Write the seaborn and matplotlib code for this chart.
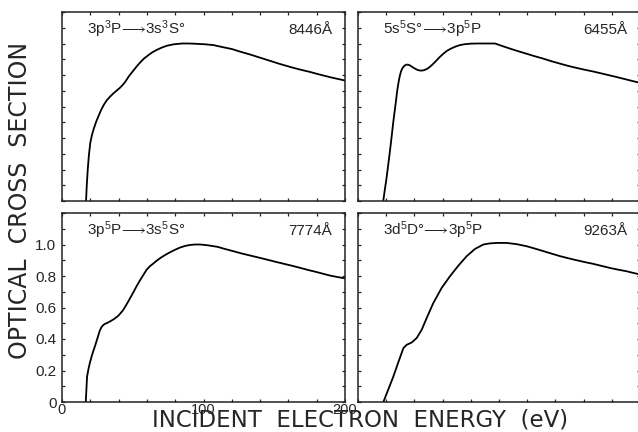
import matplotlib
matplotlib.use("Agg")
import matplotlib.pyplot as plt
from matplotlib.ticker import MultipleLocator, FixedLocator, FixedFormatter
import pandas as pd
import seaborn as sns

# Incident electron energy (eV) and relative optical cross section, one pair per line
e_8446 = [17, 17.5, 18.2, 19, 20, 21.2, 22.5, 24, 25.6, 27.5, 29.5, 31.7, 34, 36.4, 38.8,
          41.1, 43, 44.7, 47.5, 50.6, 53, 55.3, 58, 61.2, 64, 67.1, 70.5, 74.2, 79, 84.9,
          90, 95, 101, 107, 113, 120, 126, 133, 140, 147, 154, 161.7, 168, 175, 182, 190,
          195, 200]
q_8446 = [0, 0.1, 0.2, 0.29, 0.37, 0.42, 0.46, 0.5, 0.535, 0.575, 0.61, 0.64, 0.663, 0.684,
          0.702, 0.72, 0.738, 0.757, 0.795, 0.83, 0.857, 0.88, 0.905, 0.927, 0.945, 0.96,
          0.974, 0.986, 0.995, 1.0, 1.0, 0.998, 0.995, 0.99, 0.978, 0.965, 0.948, 0.93,
          0.91, 0.89, 0.87, 0.85, 0.835, 0.82, 0.803, 0.785, 0.775, 0.765]

e_6455 = [17.9, 19, 20, 21.3, 22.7, 24, 25, 26, 27, 27.8, 28.5, 29.2, 29.8, 30.6, 31.5,
          32.5, 33.5, 34.5, 35.7, 37, 38.2, 39.2, 40.5, 42, 43.5, 45.2, 46.6, 48, 49.5, 51,
          53, 55, 57.5, 60.5, 63, 66, 69, 72.3, 76, 80, 84.2, 90, 97.2, 102, 108, 114,
          119.6, 125, 131, 137, 143.3, 149, 155, 161, 166.9, 175, 183, 191, 200]
q_6455 = [0, 0.07, 0.13, 0.22, 0.32, 0.42, 0.5, 0.57, 0.64, 0.7, 0.74, 0.775, 0.80, 0.825,
          0.843, 0.855, 0.862, 0.866, 0.865, 0.86, 0.853, 0.847, 0.84, 0.833, 0.829, 0.828,
          0.83, 0.835, 0.842, 0.852, 0.868, 0.886, 0.91, 0.935, 0.953, 0.968, 0.98, 0.99,
          0.996, 0.999, 1.0, 1.0, 1.0, 0.985, 0.967, 0.95, 0.935, 0.92, 0.905, 0.888,
          0.872, 0.858, 0.845, 0.833, 0.822, 0.805, 0.788, 0.77, 0.75]

e_7774 = [16.8, 17.7, 18.6, 19.6, 20.8, 22, 23.2, 24.3, 25.5, 26.7, 27.9, 29.1, 30.3, 31.4,
          33.2, 35, 37.3, 39.7, 41.5, 43.3, 45, 46.8, 48.6, 50.4, 52.7, 55.1, 57.5, 59.8,
          62.1, 64.5, 66.9, 69.3, 72.8, 76.4, 80, 83.5, 87, 90.5, 94, 97.6, 103, 110, 115,
          121.3, 127, 133, 139, 144.9, 151, 157, 163, 168.6, 174, 180, 185, 189.8, 195, 200]
q_7774 = [0, 0.16, 0.205, 0.245, 0.285, 0.32, 0.352, 0.383, 0.418, 0.453, 0.475, 0.488,
          0.496, 0.5, 0.508, 0.517, 0.53, 0.547, 0.565, 0.585, 0.61, 0.638, 0.667, 0.696,
          0.735, 0.772, 0.807, 0.84, 0.862, 0.879, 0.897, 0.913, 0.933, 0.951, 0.967, 0.981,
          0.991, 0.997, 1.0, 1.0, 0.995, 0.985, 0.972, 0.957, 0.943, 0.93, 0.917, 0.904,
          0.89, 0.877, 0.864, 0.851, 0.838, 0.825, 0.813, 0.802, 0.793, 0.785]

e_9263 = [18, 21.5, 25, 28.5, 32.2, 34.5, 38.1, 41.6, 45.2, 48.7, 53.4, 59.3, 65.2, 71.2,
          77.1, 83, 88.9, 93.5, 98.4, 105.4, 112.6, 119.6, 125.5, 131.4, 137.3, 143.3, 149,
          155.1, 161, 166.9, 172.8, 178.7, 184.6, 190.6, 195, 200]
q_9263 = [0, 0.08, 0.16, 0.25, 0.342, 0.363, 0.378, 0.406, 0.459, 0.533, 0.628, 0.724,
          0.798, 0.866, 0.926, 0.972, 1.0, 1.007, 1.01, 1.01, 1.002, 0.989, 0.974, 0.958,
          0.942, 0.926, 0.913, 0.9, 0.888, 0.877, 0.864, 0.851, 0.84, 0.83, 0.82, 0.81]

ARROW = r"$\!\longrightarrow\!$"
transitions = ["3p$^3$P" + ARROW + "3s$^3$S°", "5s$^5$S°" + ARROW + "3p$^5$P",
               "3p$^5$P" + ARROW + "3s$^5$S°", "3d$^5$D°" + ARROW + "3p$^5$P"]
wavelengths = ["8446\u00c5", "6455\u00c5", "7774\u00c5", "9263\u00c5"]

y_ticks = [0, 0.2, 0.4, 0.6, 0.8, 1.0]
y_tick_labels = ["0", "0.2", "0.4", "0.6", "0.8", "1.0"]
x_ticks = [0, 100, 200]
x_tick_labels = ["0", "100", "200"]

sns.set_style("ticks")
plt.rcParams["font.family"] = ["Liberation Sans", "DejaVu Sans"]
plt.rcParams["mathtext.fontset"] = "custom"
plt.rcParams["mathtext.rm"] = "Liberation Sans"
plt.rcParams["mathtext.it"] = "Liberation Sans"
plt.rcParams["mathtext.fallback"] = "stix"

W, H = 638, 432
fig = plt.figure(figsize=(W / 100, H / 100), dpi=100)
fig.patch.set_facecolor("white")


def box(left, top, right, bottom):
    return [left / W, 1 - bottom / H, (right - left) / W, (bottom - top) / H]


boxes = [box(62, 12, 345, 201), box(358, 12, 640, 201),
         box(62, 213, 345, 402), box(358, 213, 640, 402)]
series = [(e_8446, q_8446), (e_6455, q_6455), (e_7774, q_7774), (e_9263, q_9263)]

for i, (rect, (e, q)) in enumerate(zip(boxes, series)):
    ax = fig.add_axes(rect)
    df = pd.DataFrame({"energy": e, "cross_section": q})
    sns.lineplot(data=df, x="energy", y="cross_section", ax=ax, color="black",
                 linewidth=1.3, estimator=None, sort=False)
    ax.set_xlim(0, 200)
    ax.set_ylim(0, 1.2)
    ax.set_xlabel("")
    ax.set_ylabel("")
    for s in ax.spines.values():
        s.set_visible(True)
        s.set_linewidth(1.1)
        s.set_color("#222222")
    ax.xaxis.set_minor_locator(MultipleLocator(20))
    ax.yaxis.set_minor_locator(MultipleLocator(0.1))
    ax.tick_params(which="both", direction="in", top=True, right=True,
                   length=2.5, width=0.9, color="#222222", labelsize=11, pad=2)
    ax.xaxis.set_major_locator(FixedLocator(x_ticks))
    ax.yaxis.set_major_locator(FixedLocator(y_ticks))
    if i == 2:
        ax.xaxis.set_major_formatter(FixedFormatter(x_tick_labels))
        ax.yaxis.set_major_formatter(FixedFormatter(y_tick_labels))
        ax.tick_params(axis="y", pad=4)
        ax.tick_params(axis="x", pad=0.5, labelsize=10.5)
    else:
        ax.tick_params(labelbottom=False, labelleft=False)
    ax.text(0.09, 0.885, transitions[i], transform=ax.transAxes, fontsize=11,
            ha="left", va="baseline")
    ax.text(0.955, 0.885, wavelengths[i], transform=ax.transAxes, fontsize=11,
            ha="right", va="baseline")

fig.text(0.565, 0.012, "INCIDENT  ELECTRON  ENERGY  (eV)", ha="center", va="baseline",
         fontsize=16.5, family="DejaVu Sans")
fig.text(0.032, 0.537, "OPTICAL  CROSS  SECTION", ha="center", va="center",
         rotation=90, fontsize=17, family="DejaVu Sans")

fig.savefig("out.png", dpi=100, facecolor="white")
